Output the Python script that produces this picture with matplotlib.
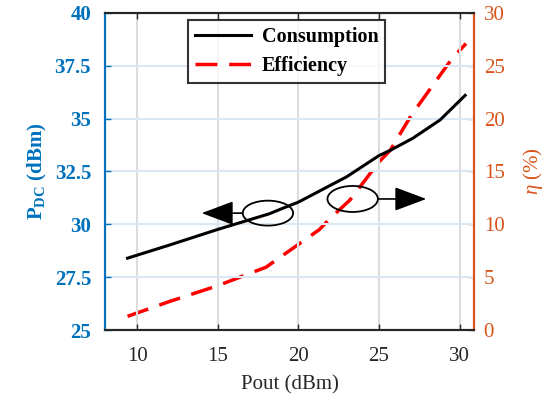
import numpy as np
import matplotlib.pyplot as plt
from matplotlib.patches import Ellipse

plt.rcParams['font.family'] = ['Liberation Serif', 'DejaVu Serif']
plt.rcParams['mathtext.fontset'] = 'custom'
plt.rcParams['mathtext.rm'] = 'Liberation Serif'
plt.rcParams['mathtext.it'] = 'Liberation Serif:italic'
plt.rcParams['mathtext.bf'] = 'Liberation Serif:bold'

# data
pout_cons = [9.4, 12, 15, 18.2, 19, 20, 21, 23, 25, 25.7, 27.1, 28.8, 30.35]
consumption = [28.4, 29.02, 29.76, 30.5, 30.75, 31.05, 31.45, 32.25, 33.25, 33.5, 34.07, 34.94, 36.1]
pout_eff = [9.4, 12, 15, 18, 18.6, 20, 21.3, 22, 23.2, 25, 25.7, 27, 28.6, 29.5, 30.4]
efficiency = [1.3, 2.7, 4.2, 5.95, 6.6, 8.1, 9.5, 10.6, 12.3, 15.9, 17.0, 20.3, 23.7, 25.6, 27.1]

xticks = [10, 15, 20, 25, 30]
lticks = [25, 27.5, 30, 32.5, 35, 37.5, 40]
rticks = [0, 5, 10, 15, 20, 25, 30]

blue = '#0072BD'
orange = '#D95319'

fig = plt.figure(figsize=(5.48, 4.03), dpi=100)
ax = fig.add_axes([0.1916, 0.181, 0.865 - 0.1916, 0.968 - 0.181])
ax2 = ax.twinx()

# grid
for xv in xticks:
    ax.axvline(xv, color='#dcdcdc', lw=1.5, zorder=0)
for yv in lticks[1:-1]:
    ax.axhline(yv, color='#dbe8f4', lw=1.5, zorder=0)

l1, = ax.plot(pout_cons, consumption, color='black', lw=2.2, label='Consumption', zorder=3)
l2, = ax2.plot(pout_eff, efficiency, color='red', lw=2.5, ls=(0, (6.3, 3.4)), label='Efficiency')

ax.set_xlim(8, 30.9)
ax.set_ylim(25, 40)
ax2.set_ylim(0, 30)
ax.set_xticks(xticks)
ax.set_yticks(lticks)
ax.set_yticklabels(['25', '27.5', '30', '32.5', '35', '37.5', '40'])
ax2.set_yticks(rticks)

ax.tick_params(axis='x', direction='in', length=4, width=1, labelsize=15, colors='#262626', top=True, pad=12)
ax.tick_params(axis='y', direction='in', length=4, width=1, labelsize=15, colors=blue, labelcolor=blue, pad=10)
ax2.tick_params(axis='y', direction='in', length=4, width=1, labelsize=15, colors=orange, labelcolor=orange, pad=7)
for lab in ax.get_yticklabels():
    lab.set_fontweight('bold')

for a in (ax, ax2):
    a.spines['left'].set_color(blue)
    a.spines['right'].set_color(orange)
    a.spines['top'].set_color('#262626')
    a.spines['bottom'].set_color('#262626')
    for s in a.spines.values():
        s.set_linewidth(1.5)

ax.set_xlabel('Pout (dBm)', fontsize=15, color='#262626', labelpad=7)
ax.set_ylabel(r'P$_{\mathbf{DC}}$ (dBm)', fontsize=15, color=blue, fontweight='bold', labelpad=4)
ax2.set_ylabel(r'$\it{\eta}$ (%)', fontsize=15, color=orange, labelpad=12)

# annotations
ax.add_patch(Ellipse((18.11, 30.53), 3.13, 1.18, fill=False, ec='black', lw=1.3, zorder=4))
ax.add_patch(Ellipse((23.37, 31.2), 3.13, 1.23, fill=False, ec='black', lw=1.3, zorder=4))
ax.annotate('', xy=(14.0, 30.53), xytext=(16.55, 30.53),
            arrowprops=dict(arrowstyle='-|>,head_length=2.0,head_width=0.75', color='black', lw=1.2,
                            shrinkA=0, shrinkB=0))
ax.annotate('', xy=(27.94, 31.2), xytext=(24.93, 31.2),
            arrowprops=dict(arrowstyle='-|>,head_length=2.0,head_width=0.75', color='black', lw=1.2,
                            shrinkA=0, shrinkB=0))

leg = ax.legend(handles=[l1, l2], loc='upper left', bbox_to_anchor=(0.225, 0.978),
                fontsize=14.5, frameon=True, fancybox=False, borderpad=0.35,
                handlelength=2.8, labelspacing=0.45, handletextpad=0.5, borderaxespad=0)
leg.get_frame().set_edgecolor('black')
leg.get_frame().set_linewidth(1.5)
for t in leg.get_texts():
    t.set_fontweight('bold')
leg.set_zorder(10)
ax.set_zorder(ax2.get_zorder() + 1)
ax.patch.set_visible(False)

fig.savefig('out.png', dpi=100)
